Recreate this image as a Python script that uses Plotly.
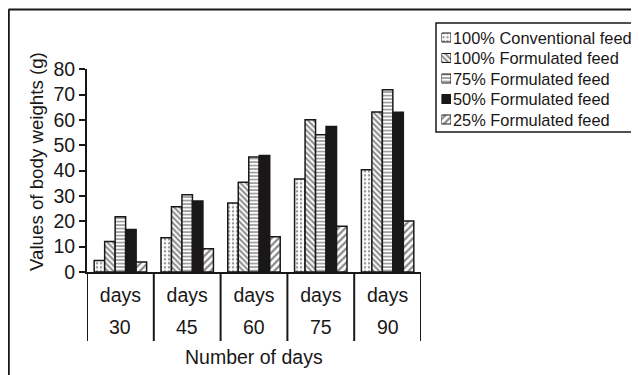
import plotly.graph_objects as go

categories = ["30", "45", "60", "75", "90"]
tick_word = "days"
series_names = ["100% Conventional feed", "100% Formulated feed", "75% Formulated feed",
                "50% Formulated feed", "25% Formulated feed"]
conv100 = [4.5, 13.5, 27.2, 36.7, 40.4]
form100 = [12.0, 25.8, 35.4, 60.1, 63.1]
form75 = [21.8, 30.5, 45.4, 54.2, 71.9]
form50 = [16.8, 28.0, 46.0, 57.4, 63.0]
form25 = [3.9, 9.2, 13.9, 18.1, 20.1]
values = [conv100, form100, form75, form50, form25]

# the page body has an 8px default margin; size the figure to fill the rest
OFF = 8
W, H = 639 - OFF, 375 - OFF
FONT = "Arial, Liberation Sans, sans-serif"
INK = "#1a1717"


def px(x):
    return (x - OFF) / W


def py(y):
    return 1 - (y - OFF) / H


patterns = [
    dict(shape=".", size=4, solidity=0.3, fgcolor="#333", bgcolor="white"),
    dict(shape="\\", size=4, solidity=0.5, fgcolor="#111", bgcolor="white"),
    dict(shape="-", size=3.5, solidity=0.5, fgcolor="#444", bgcolor="white"),
    dict(shape="", fgcolor=INK, bgcolor=INK),
    dict(shape="/", size=5, solidity=0.45, fgcolor="#111", bgcolor="white"),
]
colors = ["white", "white", "white", INK, "white"]

fig = go.Figure()
xs = list(range(len(categories)))
for name, vals, pat, col in zip(series_names, values, patterns, colors):
    fig.add_trace(go.Bar(
        x=xs, y=vals, name=name, showlegend=False,
        marker=dict(color=col, pattern=pat, line=dict(color=INK, width=1.5)),
    ))

# hand-built legend: patterned swatches on a small helper axis + text labels
rows = list(range(len(series_names)))
for i, (name, pat, col) in enumerate(zip(series_names, patterns, colors)):
    fig.add_trace(go.Bar(
        x=[1], y=[i], base=[0], orientation="h", width=0.44, showlegend=False,
        xaxis="x2", yaxis="y2", hoverinfo="skip",
        marker=dict(color=col, pattern=pat, line=dict(color=INK, width=1)),
    ))
    fig.add_annotation(x=px(450.5), xref="paper", y=i, yref="y2", text=name, showarrow=False,
                       xanchor="left", yanchor="middle",
                       font=dict(size=16.4, family=FONT, color=INK))
fig.add_shape(type="rect", xref="paper", yref="paper", x0=px(436), x1=px(633),
              y0=py(132), y1=py(23), line=dict(color=INK, width=1.5))

# category dividers below the axis
for b in [i - 0.5 for i in range(len(categories) + 1)]:
    fig.add_shape(type="line", xref="x", yref="paper", x0=b, x1=b, y0=py(272), y1=py(341),
                  line=dict(color=INK, width=2))

# number labels under "days"
for i, c in enumerate(categories):
    fig.add_annotation(x=i, xref="x", y=py(327), yref="paper", text=c, showarrow=False,
                       font=dict(size=19.5, family=FONT, color=INK), yanchor="middle")

# axis titles
fig.add_annotation(x=px(254), xref="paper", y=py(357), yref="paper", text="Number of days",
                   showarrow=False, yanchor="middle",
                   font=dict(size=19.5, family=FONT, color=INK))
fig.add_annotation(x=px(36), xref="paper", y=py(162), yref="paper",
                   text="Values of body weights (g)", textangle=-90, showarrow=False,
                   xanchor="center", yanchor="middle",
                   font=dict(size=18.7, family=FONT, color=INK))

# outer frame (top and left)
fig.add_shape(type="line", xref="paper", yref="paper", x0=px(8.5), x1=1.0, y0=py(9.5), y1=py(9.5),
              line=dict(color=INK, width=2))
fig.add_shape(type="line", xref="paper", yref="paper", x0=px(8.8), x1=px(8.8), y0=0, y1=py(9.5),
              line=dict(color=INK, width=2))

fig.update_layout(
    width=W, height=H,
    margin=dict(l=0, r=0, t=0, b=0, autoexpand=False),
    paper_bgcolor="white", plot_bgcolor="white",
    barmode="group", bargap=0.215, bargroupgap=0,
    font=dict(family=FONT, color=INK),
    showlegend=False,
    xaxis=dict(domain=[px(87), px(421)], tickmode="array", tickvals=xs,
               ticktext=[tick_word] * len(categories), automargin=False,
               range=[-0.5, len(categories) - 0.5], showline=True, linecolor=INK,
               linewidth=2, ticks="", showgrid=False, zeroline=False, ticklabelstandoff=5,
               tickfont=dict(size=19.5, family=FONT, color=INK)),
    yaxis=dict(domain=[py(272), py(69.3)], range=[0, 80], dtick=10, showline=True,
               linecolor=INK, linewidth=2, automargin=False,
               ticks="outside", ticklen=6, tickwidth=2, tickcolor=INK, showgrid=False,
               zeroline=False, tickfont=dict(size=19.5, family=FONT, color=INK)),
    xaxis2=dict(domain=[px(441.5), px(451)], range=[0, 1], visible=False, fixedrange=True,
                automargin=False),
    yaxis2=dict(domain=[py(37.5 + 20.5 * 4.5), py(37.5 - 20.5 * 0.5)],
                range=[len(rows) - 0.5, -0.5], visible=False, fixedrange=True,
                automargin=False),
)

fig.write_html("out.html")
